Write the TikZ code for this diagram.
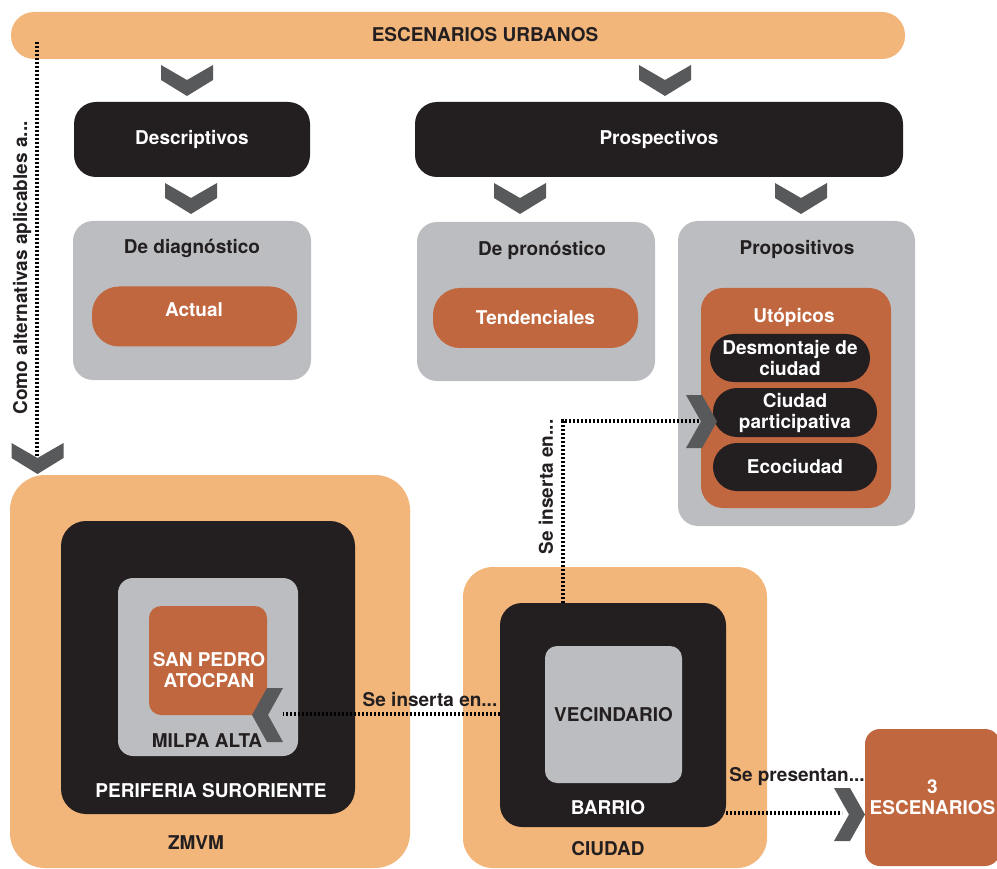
\documentclass[tikz,border=0pt]{standalone}
\usepackage{fontspec}
\setmainfont{TeX Gyre Heros}
\definecolor{lor}{HTML}{F2B57A}
\definecolor{dor}{HTML}{C1673F}
\definecolor{blk}{HTML}{231F20}
\definecolor{gry}{HTML}{BCBDC0}
\definecolor{chv}{HTML}{58595B}
\tikzset{
  txt/.style={inner sep=0pt, outer sep=0pt, align=center, font=\bfseries\fontsize{19}{21}\selectfont},
  box/.style={txt, draw=none},
  dotl/.style={draw=black, line width=3.2pt, dash pattern=on 2.4pt off 1.6pt},
  chevD/.pic={\fill[chv] (-26,0) -- (0,15) -- (26,0) -- (26,15) -- (0,31) -- (-26,15) -- cycle;},
  chevR/.pic={\fill[chv] (0,0) -- (16,0) -- (31,26.5) -- (16,53) -- (0,53) -- (15,26.5) -- cycle;},
  chevL/.pic={\fill[chv] (0,0) -- (-16,0) -- (-31,27) -- (-16,54) -- (0,54) -- (-15,27) -- cycle;},
}
\begin{document}
\begin{tikzpicture}[x=1pt,y=-1pt]
\useasboundingbox (0,0) rectangle (997,869);
% top bar
\node[box, fill=lor, minimum width=894pt, minimum height=47pt, rounded corners=23pt] (esc) at (458,35.5) {};
\node[txt, text=blk] (escT) at (485,35) {ESCENARIOS URBANOS};
% level 1
\node[box, fill=blk, text=white, minimum width=236pt, minimum height=75pt, rounded corners=22pt] (desc) at (192,139.5) {Descriptivos};
\node[box, fill=blk, text=white, minimum width=488pt, minimum height=75pt, rounded corners=22pt] (prosp) at (659,139.5) {Prospectivos};
\pic at (187,65) {chevD};
\pic at (665,65) {chevD};
\pic at (191,183) {chevD};
\pic at (520,183) {chevD};
\pic at (801,183) {chevD};
% level 2
\node[box, fill=gry, minimum width=238pt, minimum height=159pt, rounded corners=20pt] (diag) at (192,300.5) {};
\node[txt, text=blk] (diagT) at (192,248) {De diagnóstico};
\node[box, fill=dor, minimum width=205pt, minimum height=60pt, rounded corners=27pt] (actual) at (194.5,316.5) {};
\node[txt, text=white] (actualT) at (194,310) {Actual};
\node[box, fill=gry, minimum width=238pt, minimum height=159pt, rounded corners=20pt] (pron) at (536,301.5) {};
\node[txt, text=blk] (pronT) at (542,250) {De pronóstico};
\node[box, fill=dor, text=white, minimum width=205pt, minimum height=60pt, rounded corners=27pt] (tend) at (535.5,318) {Tendenciales};
\node[box, fill=gry, minimum width=237pt, minimum height=305pt, rounded corners=20pt] (prop) at (796.5,373.5) {};
\node[txt, text=blk] (propT) at (797,249) {Propositivos};
\node[box, fill=dor, minimum width=190pt, minimum height=220pt, rounded corners=22pt] (utop) at (796,398) {};
\node[txt, text=white] (utopT) at (794,317) {Utópicos};
\node[box, fill=blk, text=white, minimum width=160pt, minimum height=48pt, rounded corners=24pt] (desm) at (790,358) {Desmontaje de\\ciudad};
\node[box, fill=blk, text=white, minimum width=164pt, minimum height=49pt, rounded corners=24pt] (part) at (795,412.5) {Ciudad\\participativa};
\node[box, fill=blk, text=white, minimum width=164pt, minimum height=48pt, rounded corners=24pt] (eco) at (795,467) {Ecociudad};
% left column
\node[box, fill=lor, minimum width=400pt, minimum height=393pt, rounded corners=35pt] (zmvm) at (210,671.5) {};
\node[txt, text=blk] (zmvmT) at (196,843) {ZMVM};
\node[box, fill=blk, minimum width=294pt, minimum height=293pt, rounded corners=25pt] (peri) at (208,667.5) {};
\node[txt, text=white] (periT) at (211,791) {PERIFERIA SURORIENTE};
\node[box, fill=gry, minimum width=180pt, minimum height=178pt, rounded corners=15pt] (milpa) at (208,667) {};
\node[txt, text=blk] (milpaT) at (207,741) {MILPA ALTA};
\node[box, fill=dor, minimum width=118pt, minimum height=109pt, rounded corners=12pt] (spa) at (208,660.5) {};
\node[txt, text=white] (spaT) at (209,670) {SAN PEDRO\\ATOCPAN};
% ciudad
\node[box, fill=lor, minimum width=304pt, minimum height=301pt, rounded corners=30pt] (ciudad) at (615,717.5) {};
\node[txt, text=blk] (ciudadT) at (608,849) {CIUDAD};
\node[box, fill=blk, minimum width=226pt, minimum height=224pt, rounded corners=22pt] (barrio) at (613,715) {};
\node[txt, text=white] (barrioT) at (608,808) {BARRIO};
\node[box, fill=gry, text=blk, minimum width=137pt, minimum height=137pt, rounded corners=12pt] (vec) at (613.5,714.5) {VECINDARIO};
% result
\node[box, fill=dor, text=white, minimum width=135pt, minimum height=137pt, rounded corners=15pt] (tres) at (932.5,797.5) {3\\ESCENARIOS};
% connectors
\coordinate (a1) at (37,42);
\coordinate (a2) at (37,456);
\draw[dotl] (a1) -- (a2);
\pic at (37.5,443) {chevD};
\node[txt, text=blk, rotate=90] (altT) at (22,268) {Como alternativas aplicables a...};

\coordinate (ins) at (563,421);
\coordinate (rtip) at (701,421);
\draw[dotl] (barrio.north -| ins) -- (ins) -- (rtip);
\pic at (686,395) {chevR};
\node[txt, text=blk, rotate=90] (insT) at (546,487) {Se inserta en...};

\coordinate (ltip) at (283,714);
\draw[dotl] (barrio.west |- ltip) -- (ltip);
\pic at (283,688) {chevL};
\node[txt, text=blk] (ins2T) at (430,700) {Se inserta en...};

\coordinate (r3) at (842,813);
\draw[dotl] (barrio.east |- r3) -- (r3);
\pic at (834,788) {chevR};
\node[txt, text=blk] (presT) at (797,777) {Se presentan...};
\end{tikzpicture}
\end{document}
